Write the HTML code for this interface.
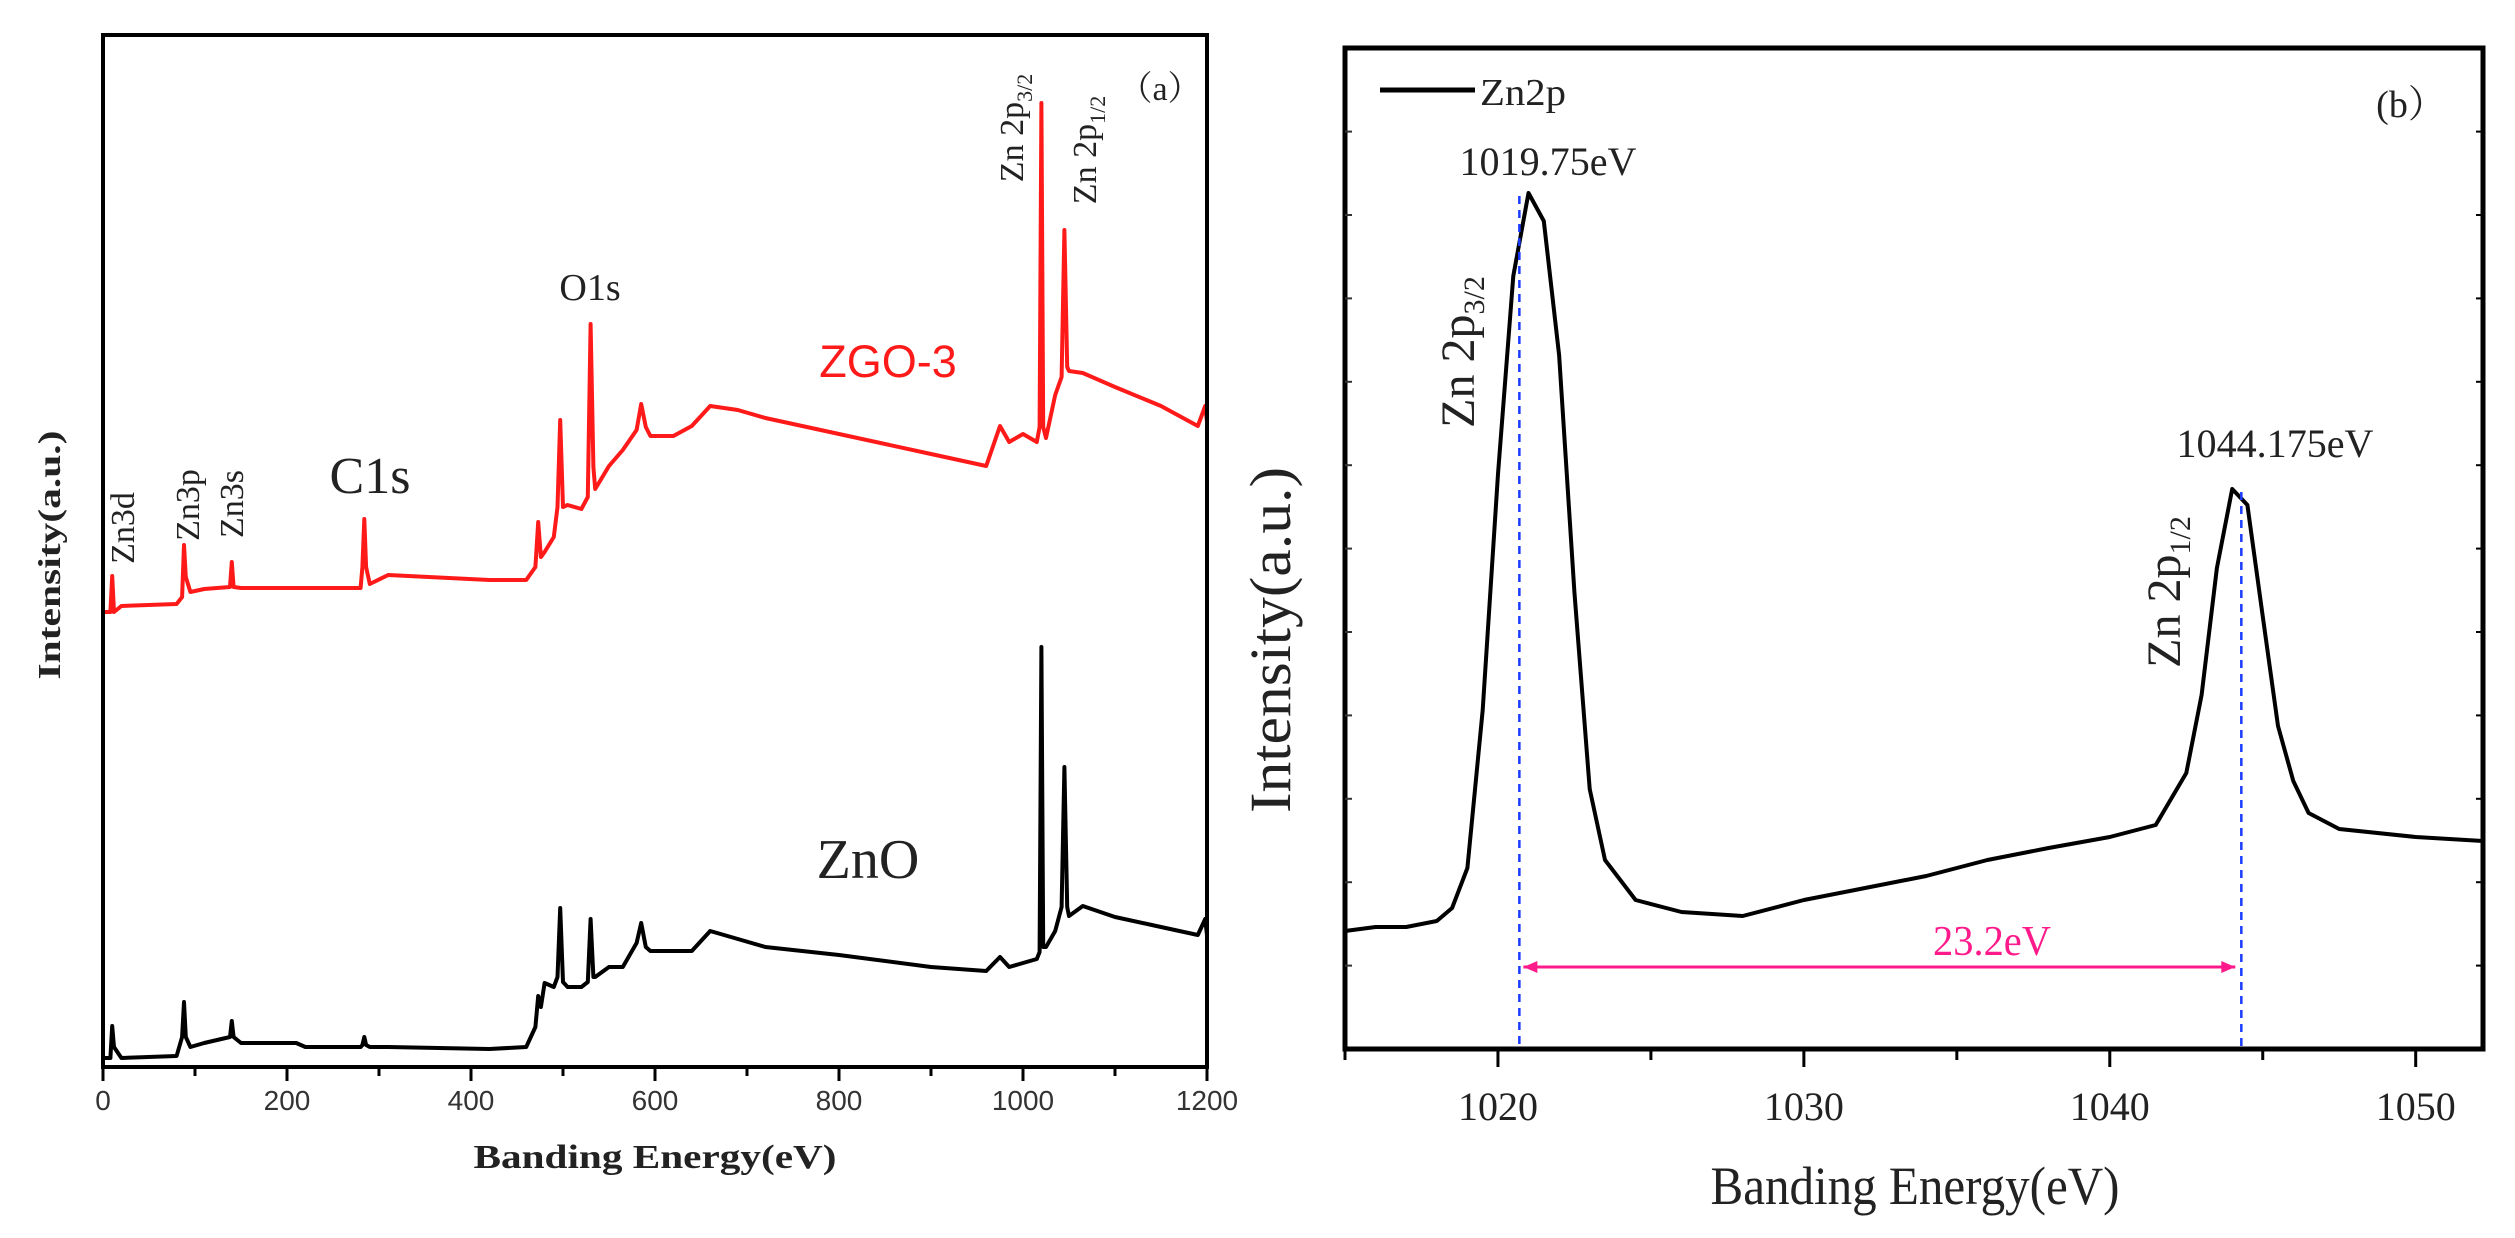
<!DOCTYPE html>
<html><head><meta charset="utf-8"><style>
html,body{margin:0;padding:0;background:#fff;}
svg{display:block;}
</style></head><body>
<svg id="fig" width="2515" height="1238" viewBox="0 0 2515 1238" xmlns="http://www.w3.org/2000/svg">
<g id="pa"></g>
<g id="pb"></g>
</svg>
<script>
// Panel (a) survey spectra
const aEnergy = [0,8,10,12,20,80,86,88,90,95,110,138,140,142,150,210,220,280,282,284,286,290,310,420,460,470,473,476,480,490,494,497,500,505,520,527,530,533,535,550,565,580,585,590,595,620,640,660,690,720,800,900,960,975,985,1000,1015,1018,1020,1022,1025,1035,1042,1045,1048,1050,1065,1100,1150,1190,1198,1200];
const aZGO = [455,455,491,455,461,463,470,522,490,475,478,480,505,480,479,479,479,479,500,548,500,483,492,487,487,500,545,510,515,530,560,647,560,562,558,570,743,600,578,601,617,637,663,640,631,631,641,661,657,649,633,613,601,641,625,633,625,640,964,640,629,672,690,837,700,696,694,680,661,641,661,645];
const aZnO = [9,9,41,20,9,11,30,65,30,20,24,30,46,30,24,24,20,20,22,30,22,20,20,18,20,40,71,60,84,80,90,159,85,80,80,85,148,90,90,100,100,124,144,120,116,116,116,136,128,120,112,100,96,110,100,104,108,115,420,120,120,136,160,300,160,151,161,150,140,132,148,132];
const aTicks = [0,200,400,600,800,1000,1200];
// Panel (b) Zn2p
const bEnergy = [1015,1016,1017,1018,1018.5,1019,1019.5,1020,1020.5,1021,1021.5,1022,1022.5,1023,1023.5,1024.5,1026,1028,1030,1032,1034,1036,1038,1040,1041.5,1042.5,1043,1043.5,1044,1044.5,1045,1045.5,1046,1046.5,1047.5,1050,1052.2];
const bZn2p = [118,122,122,128,141,181,339,575,773,856,828,694,457,260,189,149,137,133,149,161,173,189,201,212,224,276,354,481,560,544,433,323,268,236,220,212,208];
const bTicks = [1020,1030,1040,1050];
const bPeaks = [1020.7,1044.3];

const NS='http://www.w3.org/2000/svg';
function mk(parent,tag,attrs,text){const e=document.createElementNS(NS,tag);for(const k in attrs)e.setAttribute(k,attrs[k]);if(text!==undefined)e.textContent=text;parent.appendChild(e);return e;}

// ---------- Panel A ----------
const pa=document.getElementById('pa');
const aL=103,aR=1207,aT=35,aB=1067;
const ax=v=>aL+(v-0)/1200*(aR-aL);
const ay=v=>aB-v;
function poly(xs,ys,fx,fy){return xs.map((x,i)=>fx(x).toFixed(1)+','+fy(ys[i]).toFixed(1)).join(' ');}
let l1=mk(pa,'polyline',{points:poly(aEnergy,aZGO,ax,ay),fill:'none',stroke:'#ff1a1a','stroke-width':4,'stroke-linejoin':'round'});


let l2=mk(pa,'polyline',{points:poly(aEnergy,aZnO,ax,ay),fill:'none',stroke:'#000','stroke-width':4,'stroke-linejoin':'round'});


let fa=mk(pa,'rect',{x:aL,y:aT,width:aR-aL,height:aB-aT,fill:'none',stroke:'#000','stroke-width':4});


for(let v=0;v<=1200;v+=100){const major=v%200===0;mk(pa,'line',{x1:ax(v),x2:ax(v),y1:aB,y2:aB+(major?14:9),stroke:'#000','stroke-width':3});}
aTicks.forEach(v=>{const t=mk(pa,'text',{x:ax(v),y:1110,'text-anchor':'middle','font-family':'Liberation Sans, sans-serif','font-size':28,fill:'#333'},String(v));

});
function txt(p,x,y,s,attrs,name){const t=mk(p,'text',Object.assign({x:x,y:y,'font-family':'Liberation Serif, serif',fill:'#222'},attrs),s);return t;}
txt(pa,655,1168,'Banding Energy(eV)',{'text-anchor':'middle','font-size':34,'font-weight':'bold',textLength:363,lengthAdjust:'spacingAndGlyphs'},'x-axis-title-a');
txt(pa,0,0,'Intensity(a.u.)',{'text-anchor':'middle','font-size':32,'font-weight':'bold',textLength:249,lengthAdjust:'spacingAndGlyphs',transform:'translate(60,555) rotate(-90)'},'y-axis-title-a');
txt(pa,0,0,'Zn3d',{'text-anchor':'middle','font-size':34,transform:'translate(134,528) rotate(-90)'},'zn3d-label');
txt(pa,0,0,'Zn3p',{'text-anchor':'middle','font-size':34,transform:'translate(199,505) rotate(-90)'},'zn3p-label');
txt(pa,0,0,'Zn3s',{'text-anchor':'middle','font-size':34,transform:'translate(243,504) rotate(-90)'},'zn3s-label');
txt(pa,370,493,'C1s',{'text-anchor':'middle','font-size':52},'c1s-label');
txt(pa,590,300,'O1s',{'text-anchor':'middle','font-size':38},'o1s-label');
txt(pa,888,377,'ZGO-3',{'text-anchor':'middle','font-size':45,'font-family':'Liberation Sans, sans-serif',fill:'#ff1a1a'},'zgo-3-label');
txt(pa,868,878,'ZnO',{'text-anchor':'middle','font-size':56},'zno-label');
let za=txt(pa,0,0,'',{'text-anchor':'middle','font-size':34,transform:'translate(1023,128) rotate(-90)'},'zn2p32-label-a');
za.innerHTML='Zn 2p<tspan font-size="22" dy="9">3/2</tspan>';
let zb=txt(pa,0,0,'',{'text-anchor':'middle','font-size':34,transform:'translate(1096,150) rotate(-90)'},'zn2p12-label-a');
zb.innerHTML='Zn 2p<tspan font-size="22" dy="9">1/2</tspan>';
txt(pa,1160,100,'（a）',{'text-anchor':'middle','font-size':34,'font-family':'Liberation Serif, Noto Serif CJK SC, serif'},'panel-a-tag');

// ---------- Panel B ----------
const pb=document.getElementById('pb');
const bL=1345,bR=2483,bT=48,bB=1049;
const bx=v=>bL+(v-1015)/(1052.2-1015)*(bR-bL);
const by=v=>bB-v;
let l3=mk(pb,'polyline',{points:poly(bEnergy,bZn2p,bx,by),fill:'none',stroke:'#000','stroke-width':4,'stroke-linejoin':'round'});


bPeaks.forEach((p,i)=>{const idx=i===0?9:28;const d=mk(pb,'line',{x1:bx(p),x2:bx(p),y1:by(bZn2p[idx])+3,y2:bB,stroke:'#1a3cff','stroke-width':2.5,'stroke-dasharray':'8,6'});

});
const arY=967;
let ar=mk(pb,'line',{x1:bx(bPeaks[0])+4,x2:bx(bPeaks[1])-6,y1:arY,y2:arY,stroke:'#ff1a8c','stroke-width':3});


const a1=bx(bPeaks[0])+4,a2=bx(bPeaks[1])-6;
mk(pb,'polygon',{points:`${a1},${arY} ${a1+14},${arY-6} ${a1+14},${arY+6}`,fill:'#ff1a8c'});
mk(pb,'polygon',{points:`${a2},${arY} ${a2-14},${arY-6} ${a2-14},${arY+6}`,fill:'#ff1a8c'});
let fb=mk(pb,'rect',{x:bL,y:bT,width:bR-bL,height:bB-bT,fill:'none',stroke:'#000','stroke-width':5});


for(let v=1015;v<=1052;v+=5){const major=v%10===0;mk(pb,'line',{x1:bx(v),x2:bx(v),y1:bB,y2:bB+(major?18:11),stroke:'#000','stroke-width':3});}
for(let y=bB-83.4;y>bT+20;y-=83.4){mk(pb,'line',{x1:bR,x2:bR-7,y1:y,y2:y,stroke:'#000','stroke-width':2});mk(pb,'line',{x1:bL,x2:bL+7,y1:y,y2:y,stroke:'#333','stroke-width':2});}
bTicks.forEach(v=>{const t=mk(pb,'text',{x:bx(v),y:1120,'text-anchor':'middle','font-family':'Liberation Serif, serif','font-size':40,fill:'#222'},String(v));

});
txt(pb,1915,1204,'Banding Energy(eV)',{'text-anchor':'middle','font-size':54,textLength:409,lengthAdjust:'spacingAndGlyphs'},'x-axis-title-b');
txt(pb,0,0,'Intensity(a.u.)',{'text-anchor':'middle','font-size':58,textLength:346,lengthAdjust:'spacingAndGlyphs',transform:'translate(1290,640) rotate(-90)'},'y-axis-title-b');
let lg=mk(pb,'line',{x1:1380,x2:1475,y1:90,y2:90,stroke:'#000','stroke-width':5});


txt(pb,1480,105,'Zn2p',{'font-size':38,textLength:86,lengthAdjust:'spacingAndGlyphs'},'legend-label');
txt(pb,2411,117,'(b）',{'text-anchor':'middle','font-size':38,'font-family':'Liberation Serif, Noto Serif CJK SC, serif'},'panel-b-tag');
txt(pb,1548,175,'1019.75eV',{'text-anchor':'middle','font-size':40,textLength:177,lengthAdjust:'spacingAndGlyphs'},'peak1-value');
txt(pb,2275,457,'1044.175eV',{'text-anchor':'middle','font-size':40,textLength:197,lengthAdjust:'spacingAndGlyphs'},'peak2-value');
let zc=txt(pb,0,0,'',{'text-anchor':'middle','font-size':48,transform:'translate(1474,352) rotate(-90)'},'zn2p32-label-b');
zc.innerHTML='Zn 2p<tspan font-size="30" dy="10">3/2</tspan>';
let zd=txt(pb,0,0,'',{'text-anchor':'middle','font-size':48,transform:'translate(2180,592) rotate(-90)'},'zn2p12-label-b');
zd.innerHTML='Zn 2p<tspan font-size="30" dy="10">1/2</tspan>';
txt(pb,1992,955,'23.2eV',{'text-anchor':'middle','font-size':42,fill:'#ff1a8c',textLength:118,lengthAdjust:'spacingAndGlyphs'},'separation-label');
</script>
</body></html>
